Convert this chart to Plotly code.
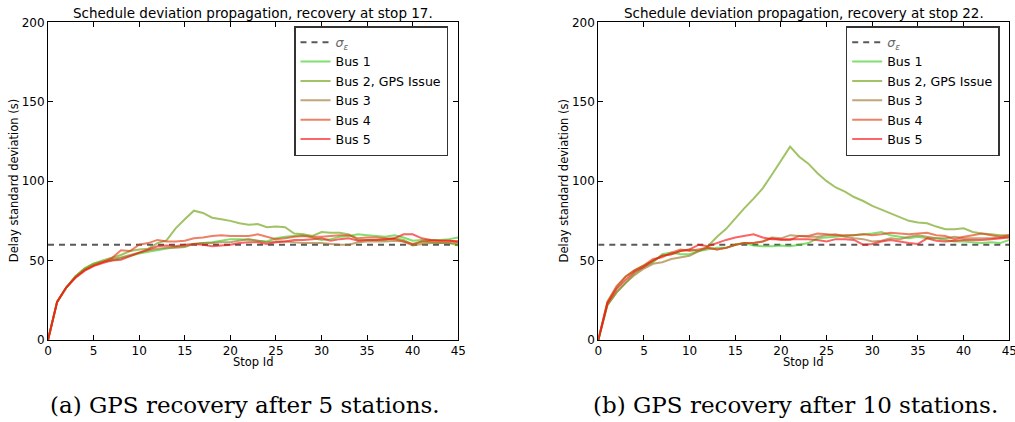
import plotly.graph_objects as go

stops = list(range(46))
sigma_eps = 60

bus_names = ["Bus 1", "Bus 2, GPS Issue", "Bus 3", "Bus 4", "Bus 5"]
bus_colors = ["rgba(62,205,34,0.65)", "rgba(110,162,19,0.65)", "rgba(162,119,48,0.65)",
              "rgba(226,62,19,0.65)", "rgba(248,19,19,0.65)"]

# Panel (a): recovery at stop 17
a_bus1 = [0, 24, 33, 40, 45, 48, 49.5, 50, 51.5, 53, 54.5, 55.5, 56.5, 57.5, 58.5, 59, 60.5, 61, 61.5, 62.5,
          63.5, 63.5, 63, 62.5, 62, 64, 65, 65.5, 66, 64.5, 63, 63.5, 65, 65.5, 66.5, 66, 65.5, 65, 66, 64.5,
          62.5, 63, 63, 63, 63.5, 64.5]
a_bus2 = [0, 24, 33, 40, 45, 48, 50, 52, 53.5, 56, 57, 57.5, 61, 62.7, 70.3, 76, 81.4, 80, 77, 76,
          75, 73.5, 72.5, 73, 71, 71.5, 71, 67, 66.5, 65.5, 68, 67.5, 67.5, 66.5, 63, 63, 63, 63, 64, 63,
          60, 62, 61.5, 61, 61, 59.5]
a_bus3 = [0, 24, 33, 39.5, 44, 47, 49, 51, 52, 53.5, 55, 56.5, 57.5, 58, 58, 58.5, 60.5, 61, 61, 61.5,
          61.5, 62.5, 63.5, 62.5, 61.5, 62, 62, 61.5, 61, 61, 61, 60.5, 60, 60, 61.5, 62, 62, 62, 62.5, 62,
          59.5, 60.5, 61, 61, 61, 61]
a_bus4 = [0, 24, 33, 39.5, 44, 47, 49, 51.5, 56.5, 56, 60, 61, 63, 62, 62, 62.5, 64, 64.5, 65.5, 66,
          65.5, 65.5, 65.5, 66.5, 65, 63.5, 64, 65, 65.5, 65, 65, 65.5, 66, 66, 64, 64.5, 64.5, 64, 63.5, 62,
          60.5, 62, 62.5, 62.5, 62.5, 62]
a_bus5 = [0, 24, 33, 39, 43.5, 46.5, 48.5, 50, 50.5, 53, 55, 57, 59, 59.5, 59, 60, 60.5, 60, 59, 59.5,
          60, 61, 61.5, 61.5, 60.5, 61.5, 62, 63, 63, 63.5, 64, 62.5, 63.5, 64, 62.5, 63, 63, 63.5, 64, 66.5,
          66.5, 64, 63, 62.5, 62.5, 62]

# Panel (b): recovery at stop 22
b_bus1 = [0, 22, 30, 36, 42, 46, 49, 54, 55, 54, 54, 56, 57, 58, 58, 60, 61, 59.5, 59, 59,
          59.5, 59, 60, 61, 64, 64.5, 65, 65.5, 66, 66.5, 67, 68, 66, 65, 64, 65, 64, 64, 63, 62,
          62, 61.5, 61, 61.5, 61, 63]
b_bus2 = [0, 24, 33, 40, 44, 47, 50, 53, 54, 56, 57, 56, 59, 65, 70, 76.6, 83, 89, 95.5, 104,
          112.7, 121.7, 115.4, 111, 105, 100, 96, 93.4, 90, 87.5, 84.4, 82, 79.7, 77, 75, 74, 73.5, 71.4, 69.7, 69.7,
          70.3, 68, 67, 66.5, 66, 66]
b_bus3 = [0, 22, 30, 36, 41, 45, 48, 49, 51, 52, 53, 56, 58, 57, 58, 60, 61, 61, 62, 64.5,
          64, 66, 65.5, 65, 65, 66, 66.5, 65, 64, 63.5, 62, 62.5, 64, 63.5, 65, 66, 65, 64, 64, 65,
          64, 64, 64, 64, 64.5, 65]
b_bus4 = [0, 24, 34, 40, 44, 47, 51, 52, 55, 57, 56, 57, 58, 57, 58, 60, 61, 61, 62, 64,
          63, 63, 65.5, 65.5, 67, 66.5, 66, 66, 66, 66.5, 66, 66.5, 67.5, 67, 66.5, 67, 67.5, 66, 65.5, 63.5,
          65, 66, 67, 66, 65, 66]
b_bus5 = [0, 23, 32, 38, 43, 46, 50, 53, 54, 56, 57, 60, 59, 61, 63, 64.5, 65.5, 66.5, 64.5, 63.5,
          63.5, 63.5, 63.5, 63.5, 63, 62, 63.5, 63.5, 63, 60, 60.5, 62, 63, 62, 61, 60.5, 64, 62.5, 62, 62.5,
          63, 63, 63, 63.5, 64, 64.5]

panels = [
    dict(series=[a_bus1, a_bus2, a_bus3, a_bus4, a_bus5],
         title="Schedule deviation propagation, recovery at stop 17.",
         caption="(a) GPS recovery after 5 stations."),
    dict(series=[b_bus1, b_bus2, b_bus3, b_bus4, b_bus5],
         title="Schedule deviation propagation, recovery at stop 22.",
         caption="(b) GPS recovery after 10 stations."),
]

W, H = 1015, 422


def px_x(p):
    return p / W


def px_y(p):
    return 1 - p / H


x_domains = [[px_x(48), px_x(458.3)], [px_x(598.3), px_x(1009.3)]]
y_domain = [px_y(340), px_y(22.3)]
legend_x = [px_x(294), px_x(845.7)]

fig = go.Figure()
for i, p in enumerate(panels):
    xa = "x" if i == 0 else "x2"
    ya = "y" if i == 0 else "y2"
    lg = "legend" if i == 0 else "legend2"
    fig.add_trace(go.Scatter(
        x=[stops[0], stops[-1]], y=[sigma_eps, sigma_eps], mode="lines",
        line=dict(color="rgba(60,60,60,0.85)", width=2, dash="6px,5px"),
        name='<span style="color:#666"><i>σ<sub>ε</sub></i></span>',
        xaxis=xa, yaxis=ya, legend=lg))
    for name, col, vals in zip(bus_names, bus_colors, p["series"]):
        fig.add_trace(go.Scatter(
            x=stops, y=vals, mode="lines", line=dict(color=col, width=2),
            name=name, xaxis=xa, yaxis=ya, legend=lg))

axis_common = dict(showline=True, linecolor="black", linewidth=1, mirror="ticks",
                   ticks="inside", ticklen=5, tickcolor="black", showgrid=False,
                   zeroline=False, automargin=False, ticklabeloverflow="allow",
                   tickfont=dict(family="DejaVu Sans", size=12, color="black"))

fig.update_layout(
    width=W, height=H, margin=dict(l=0, r=0, t=0, b=0, autoexpand=False),
    paper_bgcolor="white", plot_bgcolor="white",
    xaxis=dict(domain=x_domains[0], range=[0, 45], dtick=5, anchor="y", **axis_common),
    yaxis=dict(domain=y_domain, range=[0, 200], dtick=50, anchor="x", **axis_common),
    xaxis2=dict(domain=x_domains[1], range=[0, 45], dtick=5, anchor="y2", **axis_common),
    yaxis2=dict(domain=y_domain, range=[0, 200], dtick=50, anchor="x2", **axis_common),
)

legend_common = dict(xref="paper", yref="paper", xanchor="left", yanchor="top",
                     y=px_y(26), bgcolor="white", bordercolor="#333", borderwidth=1.5,
                     font=dict(family="DejaVu Sans", size=12.6, color="black"),
                     tracegroupgap=0, itemwidth=30)
fig.update_layout(legend=dict(x=legend_x[0], **legend_common),
                  legend2=dict(x=legend_x[1], **legend_common))

annotations = []
for i, p in enumerate(panels):
    x0, x1 = x_domains[i]
    xc = (x0 + x1) / 2
    annotations.append(dict(text=p["title"], x=xc, y=px_y(13), xref="paper", yref="paper",
                            showarrow=False, xanchor="center", yanchor="middle",
                            font=dict(family="DejaVu Sans", size=13.5, color="black")))
    annotations.append(dict(text="Stop Id", x=xc, y=px_y(362), xref="paper", yref="paper",
                            showarrow=False, xanchor="center", yanchor="middle",
                            font=dict(family="DejaVu Sans", size=11.5, color="black")))
    annotations.append(dict(text="Delay standard deviation (s)", x=x0 - 34 / W,
                            y=(y_domain[0] + y_domain[1]) / 2, xref="paper", yref="paper",
                            showarrow=False, textangle=-90, xanchor="center", yanchor="middle",
                            font=dict(family="DejaVu Sans", size=11.5, color="black")))
    annotations.append(dict(text=p["caption"], x=xc - 8 / W, y=px_y(405), xref="paper", yref="paper",
                            showarrow=False, xanchor="center", yanchor="middle",
                            font=dict(family="DejaVu Serif", size=23, color="black")))
fig.update_layout(annotations=annotations)

fig.write_html("out.html", config={"displayModeBar": False},
               post_script="document.body.style.margin='0px';document.body.style.overflow='hidden';")
